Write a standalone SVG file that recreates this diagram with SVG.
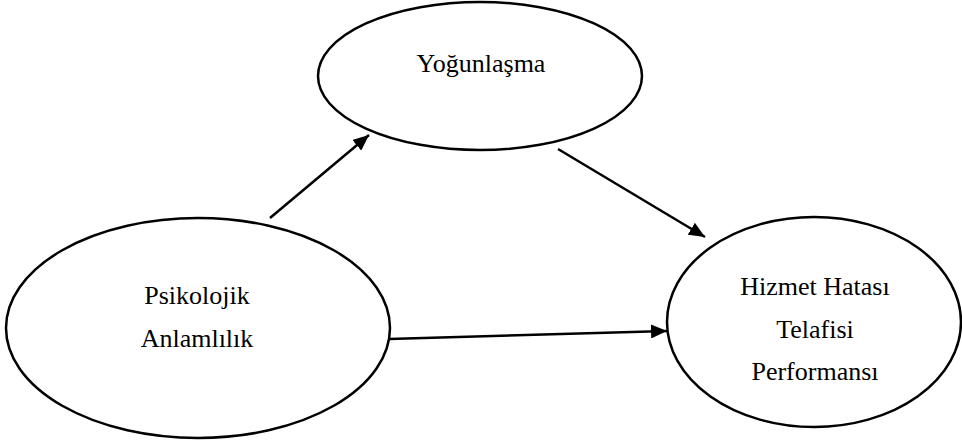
<svg xmlns="http://www.w3.org/2000/svg" width="962" height="443" viewBox="0 0 962 443">
<style>
.node ellipse{fill:#fff;stroke:#000;stroke-width:2.5}
.node text{font-family:"Liberation Serif","Times New Roman",serif;font-size:26px;fill:#000;text-anchor:middle}
.conn line{stroke:#000;stroke-width:2.5}
</style>
<defs>
<marker id="ah" markerUnits="userSpaceOnUse" markerWidth="16" markerHeight="14" refX="16" refY="7" orient="auto">
<path d="M0,0 L16,7 L0,14 Z" fill="#000"/>
</marker>
</defs>
<rect width="962" height="443" fill="#fff"/>
<g id="yogunlasma" class="node">
<ellipse cx="480" cy="76" rx="162" ry="74"/>
<text x="481" y="72">Yoğunlaşma</text>
</g>
<g id="psikolojik" class="node">
<ellipse cx="198" cy="328" rx="192" ry="110"/>
<text x="197" y="304">Psikolojik</text>
<text x="197" y="347">Anlamlılık</text>
</g>
<g id="hizmet" class="node">
<ellipse cx="814" cy="322" rx="147" ry="105"/>
<text x="815" y="295">Hizmet Hatası</text>
<text x="815" y="338">Telafisi</text>
<text x="815" y="380">Performansı</text>
</g>
<g id="connectors" class="conn">
<line x1="270" y1="218" x2="369" y2="135" marker-end="url(#ah)"/>
<line x1="558" y1="149" x2="705" y2="237" marker-end="url(#ah)"/>
<line x1="389" y1="339" x2="667" y2="331" marker-end="url(#ah)"/>
</g>
</svg>
